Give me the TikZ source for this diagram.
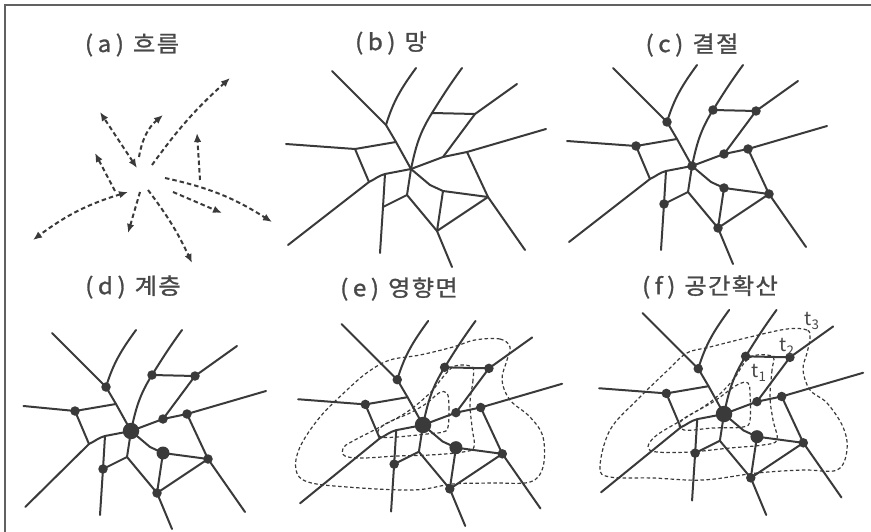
\documentclass[tikz,border=0pt]{standalone}
\usepackage{fontspec}
\newfontfamily\krfont[FakeStretch=1.08, FakeBold=1.2, LetterSpace=6]{Noto Sans CJK KR}
\newfontfamily\tfont{Noto Sans CJK KR}
\usetikzlibrary{arrows.meta}
\definecolor{ink}{HTML}{3A3A3A}
\definecolor{txt}{HTML}{484848}
\tikzset{
 road/.style={draw=ink, line width=2pt, line cap=round, line join=round},
 flow/.style={draw=ink, line width=2pt, dash pattern=on 4.5pt off 3pt, -{Latex[length=9pt,width=7.5pt]}},
 flowtwo/.style={flow, {Latex[length=9pt,width=7.5pt]}-{Latex[length=9pt,width=7.5pt]}},
 zone/.style={draw=ink, line width=1.2pt, dash pattern=on 3.5pt off 2.5pt},
 dotS/.style={circle, fill=ink, inner sep=0pt, minimum size=9.5pt},
 dotM/.style={circle, fill=ink, inner sep=0pt, minimum size=13pt},
 dotL/.style={circle, fill=ink, inner sep=0pt, minimum size=16.5pt},
 ttl/.style={text=txt, font=\krfont\fontsize{22.5}{26}\selectfont, inner sep=0pt},
 tlab/.style={text=txt, font=\tfont\fontsize{19}{22}\selectfont, inner sep=0pt},
 frame/.style={draw=ink!80, line width=1.4pt},
}
\newcommand\roadnet[5]{% prefix, x, y, scale, west factor
\begin{scope}[shift={(#2,#3)}, scale=#4]
\coordinate (#1C) at (0,0);
\coordinate (#1A0) at (-79,-98);
\coordinate (#1J1) at (-25,-44);
\coordinate (#1Jw) at (-15,-27);
\coordinate (#1Btop) at (5,-101);
\coordinate (#1Jt) at (21,-56);
\coordinate (#1Ttop) at (51,-101);
\coordinate (#1Jtr) at (64,-55);
\coordinate (#1NE) at (106,-85);
\coordinate (#1Je1) at (32,-12);
\coordinate (#1Je2) at (56,-17);
\coordinate (#1E) at (135,-40);
\coordinate (#1Jse) at (77,28);
\coordinate (#1SE) at (114,81);
\coordinate (#1W) at (-125*#5,-25);
\coordinate (#1Jw2) at (-56,-20);
\coordinate (#1Jsw) at (-42,13);
\coordinate (#1SW) at (-123*#5,76);
\coordinate (#1Js1) at (-26,5);
\coordinate (#1Js2) at (-28,38);
\coordinate (#1S1) at (-31,84);
\coordinate (#1Jc2) at (-4,26);
\coordinate (#1Jb) at (26,62);
\coordinate (#1S) at (41,98);
\coordinate (#1Jm) at (19,16);
\coordinate (#1Jmm) at (32,22);
\draw[road] (#1A0) -- (#1J1) -- (#1Jw) -- (#1C);
\draw[road] (#1J1) to[out=73,in=-126] (#1Btop);
\draw[road] (#1C) to[out=78,in=-122] (#1Jt) to[out=58,in=-126] (#1Ttop);
\draw[road] (#1Jt) -- (#1Jtr) -- (#1NE);
\draw[road] (#1Jtr) -- (#1Je1);
\draw[road] (#1C) -- (#1Je1) -- (#1Je2) -- (#1E);
\draw[road] (#1Je2) -- (#1Jse) -- (#1SE);
\draw[road] (#1W) -- (#1Jw2) -- (#1Jw);
\draw[road] (#1Jw2) -- (#1Jsw);
\draw[road] (#1SW) -- (#1Jsw) to[out=25,in=-165] (#1Js1) -- (#1C);
\draw[road] (#1Js1) -- (#1Js2) -- (#1S1);
\draw[road] (#1Js2) -- (#1Jc2);
\draw[road] (#1C) -- (#1Jc2) -- (#1Jb) -- (#1S);
\draw[road] (#1C) -- (#1Jm) -- (#1Jmm) -- (#1Jse);
\draw[road] (#1Jmm) -- (#1Jb) -- (#1Jse);
\end{scope}}
\newcommand\netdots[4]{% prefix, centre style, mid style, other style
\node[#2] (#1dC) at (#1C) {};
\node[#3] (#1dJmm) at (#1Jmm) {};
\node[#4] (#1dJ1) at (#1J1) {};
\node[#4] (#1dJw2) at (#1Jw2) {};
\node[#4] (#1dJt) at (#1Jt) {};
\node[#4] (#1dJtr) at (#1Jtr) {};
\node[#4] (#1dJe1) at (#1Je1) {};
\node[#4] (#1dJe2) at (#1Je2) {};
\node[#4] (#1dJse) at (#1Jse) {};
\node[#4] (#1dJb) at (#1Jb) {};
\node[#4] (#1dJs2) at (#1Js2) {};
}
\begin{document}
\begin{tikzpicture}[x=1pt,y=-1pt]
\useasboundingbox (0,0) rectangle (871,532);
% frame
\coordinate (fr1) at (5,532);
\coordinate (fr2) at (5,5);
\coordinate (fr3) at (871,5);
\draw[frame] (fr1) -- (fr2) -- (fr3);
% titles
\node[ttl] (ta) at (132,45) {(\hspace{0.2em}a\hspace{0.2em})\hspace{0.4em}흐름};
\node[ttl] (tb) at (391,43) {(\hspace{0.2em}b\hspace{0.2em})\hspace{0.4em}망};
\node[ttl] (tc) at (692,45) {(\hspace{0.2em}c\hspace{0.2em})\hspace{0.4em}결절};
\node[ttl] (td) at (133,287) {(\hspace{0.2em}d\hspace{0.2em})\hspace{0.4em}계층};
\node[ttl] (te) at (399,289) {(\hspace{0.2em}e\hspace{0.2em})\hspace{0.4em}영향면};
\node[ttl] (tf) at (710,287) {(\hspace{0.2em}f\hspace{0.2em})\hspace{0.4em}공간확산};
% (a) flows
\coordinate (a1s) at (137,168); \coordinate (a1e) at (100,112);
\coordinate (a2s) at (139,157); \coordinate (a2e) at (163,115);
\coordinate (a3s) at (152,165); \coordinate (a3e) at (230,78);
\coordinate (a4s) at (115,191); \coordinate (a4e) at (95,153);
\coordinate (a5s) at (128,192); \coordinate (a5e) at (33,240);
\coordinate (a6s) at (140,192); \coordinate (a6e) at (128,233);
\coordinate (a7s) at (148,190); \coordinate (a7e) at (192,263);
\coordinate (a8s) at (165,178); \coordinate (a8e) at (272,222);
\coordinate (a9s) at (200,180); \coordinate (a9e) at (197,133);
\coordinate (a10s) at (173,192); \coordinate (a10e) at (222,213);
\draw[flowtwo] (a1s) -- (a1e);
\draw[flow] (a2s) to[bend left=20] (a2e);
\draw[flow] (a3s) to[bend left=6] (a3e);
\draw[flow] (a4s) -- (a4e);
\draw[flowtwo] (a5s) to[bend right=10] (a5e);
\draw[flow] (a6s) -- (a6e);
\draw[flow] (a7s) to[bend left=6] (a7e);
\draw[flow] (a8s) to[bend left=10] (a8e);
\draw[flow] (a9s) -- (a9e);
\draw[flow] (a10s) -- (a10e);
% networks
\roadnet{b}{411}{169}{1}{1}
\roadnet{c}{692}{166}{1}{1}
\roadnet{d}{131}{431}{1}{0.86}
\roadnet{e}{423}{425}{1.03}{0.97}
\roadnet{f}{724}{414}{1.03}{0.97}
\netdots{c}{dotS}{dotS}{dotS}
\netdots{d}{dotL}{dotM}{dotS}
\netdots{e}{dotL}{dotM}{dotS}
\netdots{f}{dotL}{dotM}{dotS}
% (e) zones
\draw[zone] plot[smooth cycle, tension=0.6] coordinates {(510,347) (500,339) (475,340) (453,347) (420,355) (390,360) (368,372) (347,390) (320,417) (300,447) (296,470) (308,482) (347,487) (413,490) (453,484) (493,483) (530,482) (543,467) (543,437) (530,417) (510,400) (502,380) (507,360)};
\draw[zone] plot[smooth cycle, tension=0.6] coordinates {(472,367) (473,380) (470,403) (472,427) (474,447) (463,452) (430,455) (397,456) (363,458) (345,456) (343,448) (353,441) (380,427) (407,412) (430,393) (443,377) (455,366)};
\draw[zone] plot[smooth cycle, tension=0.6] coordinates {(447,393) (449,407) (448,427) (443,432) (427,434) (397,437) (381,437) (378,431) (387,423) (410,413) (427,403) (439,393)};
% (f) zones
\draw[zone] plot[smooth cycle, tension=0.6] coordinates {(810,338) (807,330) (787,329) (750,337) (710,347) (687,353) (668,370) (637,400) (610,430) (600,467) (610,477) (653,478) (703,480) (757,473) (803,470) (837,470) (847,450) (843,427) (827,403) (810,390) (803,370) (807,353)};
\draw[zone] plot[smooth cycle, tension=0.6] coordinates {(773,357) (772,370) (770,397) (773,420) (777,440) (763,445) (730,448) (690,452) (657,452) (648,447) (657,435) (687,417) (713,400) (733,380) (745,362) (757,355)};
\draw[zone] plot[smooth cycle, tension=0.6] coordinates {(748,383) (750,393) (750,420) (743,427) (713,428) (684,430) (682,420) (713,402) (737,385)};
% time labels
\node[tlab] (t3) at (812,321) {t\textsubscript{3}};
\node[tlab] (t2) at (787,347) {t\textsubscript{2}};
\node[tlab] (t1) at (759,373) {t\textsubscript{1}};
\end{tikzpicture}
\end{document}
